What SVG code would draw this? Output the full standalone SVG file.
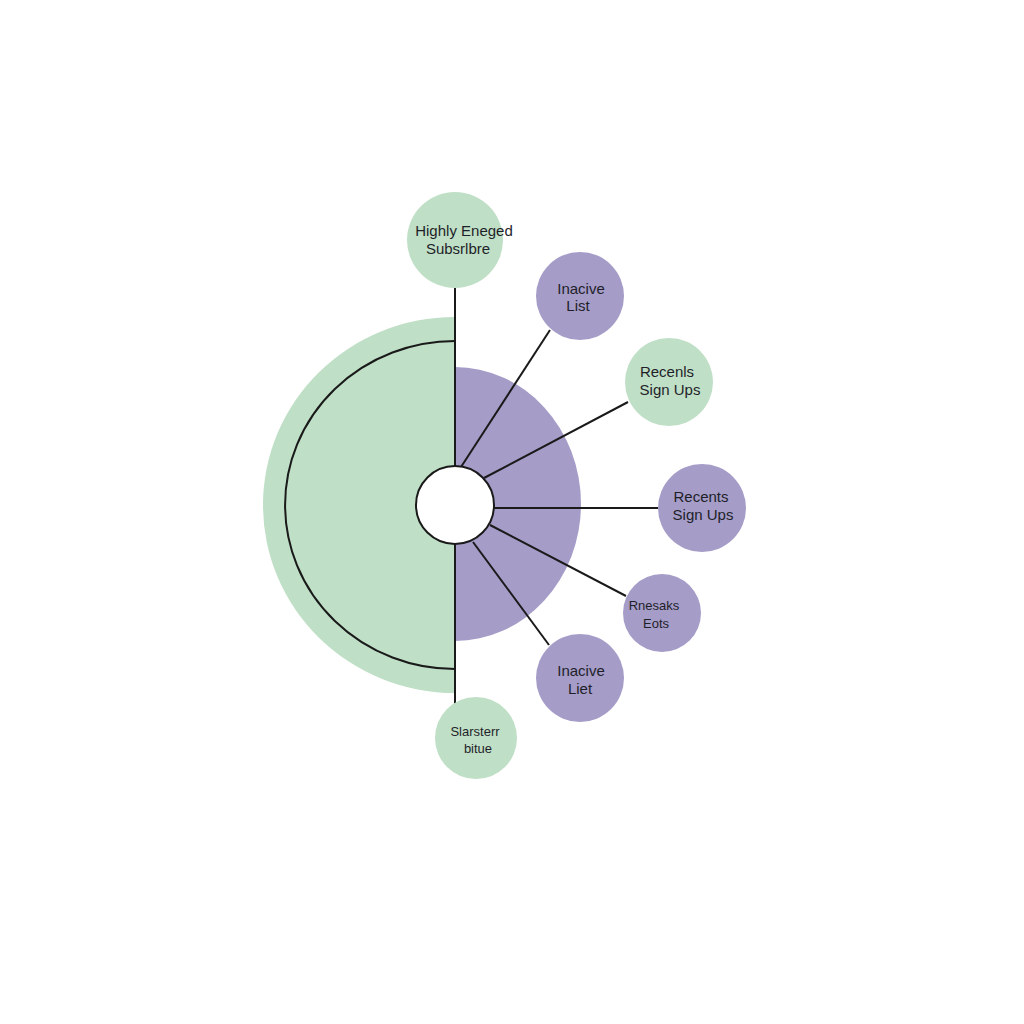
<svg xmlns="http://www.w3.org/2000/svg" width="1024" height="1024" viewBox="0 0 1024 1024">
<style>
.g{fill:#bfdfc6}
.p{fill:#a59cc8}
.ln{stroke:#1a1a1a;stroke-width:2;fill:none}
text{font-family:"Liberation Sans",Arial,sans-serif;font-size:15px;fill:#1f1f2a;text-anchor:middle}
</style>
<rect width="1024" height="1024" fill="#ffffff"/>
<g id="core">
<path class="g" d="M455 317 A192 188 0 0 0 455 693 Z"/>
<path class="ln" d="M455 341 A170 164 0 0 0 455 669"/>
<path class="p" d="M455 367 A126 137 0 0 1 455 641 Z"/>
</g>
<g id="connectors">
<line class="ln" x1="455" y1="288" x2="455" y2="705"/>
<line class="ln" x1="461" y1="467" x2="550" y2="330"/>
<line class="ln" x1="484" y1="478" x2="628" y2="402"/>
<line class="ln" x1="494" y1="508" x2="658" y2="508"/>
<line class="ln" x1="490" y1="525" x2="626" y2="596"/>
<line class="ln" x1="473" y1="542" x2="549" y2="645"/>
</g>
<g id="center">
<circle cx="455" cy="505" r="39" fill="#ffffff" stroke="#1a1a1a" stroke-width="2"/>
</g>
<g id="n1"><circle class="g" cx="455" cy="240" r="48"/><text x="464" y="236">Highly Eneged</text><text x="458" y="254">Subsrlbre</text></g>
<g id="n2"><circle class="p" cx="580" cy="296" r="44"/><text x="581" y="294">Inacive</text><text x="578" y="311">List</text></g>
<g id="n3"><circle class="g" cx="669" cy="382" r="44"/><text x="667" y="377">Recenls</text><text x="670" y="395">Sign Ups</text></g>
<g id="n4"><circle class="p" cx="702" cy="508" r="44"/><text x="701" y="502">Recents</text><text x="703" y="520">Sign Ups</text></g>
<g id="n5"><circle class="p" cx="662" cy="613" r="39"/><text x="654" y="610" style="font-size:13px">Rnesaks</text><text x="656" y="628" style="font-size:13px">Eots</text></g>
<g id="n6"><circle class="p" cx="580" cy="678" r="44"/><text x="581" y="676">Inacive</text><text x="580" y="694">Liet</text></g>
<g id="n7"><circle class="g" cx="476" cy="738" r="41"/><text x="475" y="736" style="font-size:13px">Slarsterr</text><text x="478" y="753" style="font-size:13px">bitue</text></g>
</svg>
